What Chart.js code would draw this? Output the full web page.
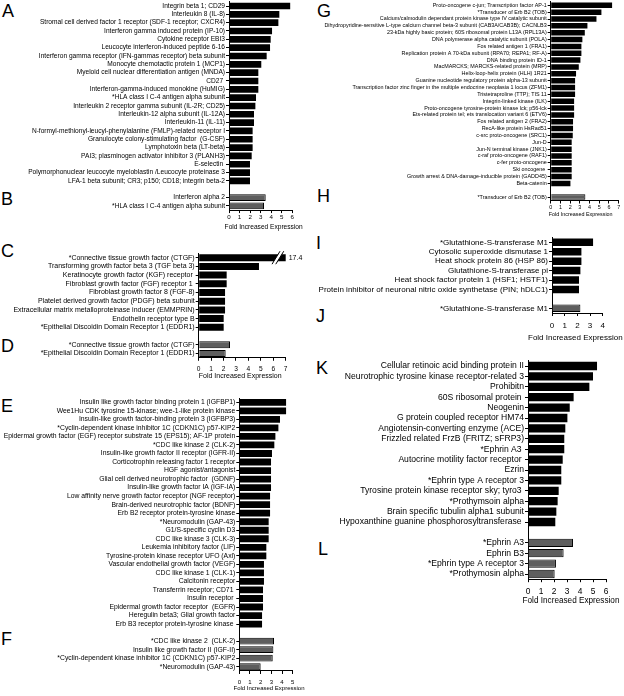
<!DOCTYPE html>
<html>
<head>
<meta charset="utf-8">
<script src="https://cdn.jsdelivr.net/npm/chart.js@4.4.0/dist/chart.umd.min.js"></script>
<style>
  html, body { margin: 0; padding: 0; background: #fff; overflow: hidden; }
  #fig { position: relative; width: 624px; height: 696px; background: #fff; }
  .panel { position: absolute; }
  .letter { position: absolute; font-family: "Liberation Sans", Arial, sans-serif; font-size: 18px; line-height: 18px; color: #000; }
</style>
</head>
<body>
<div id="fig"></div>
<script>
const FONT = "'Liberation Sans', Arial, Helvetica, sans-serif";
const AXIS_TITLE = "Fold Increased Expression";

// ---- A / B ----
const aLabels = [
  "Integrin beta 1; CD29",
  "Interleukin 8 (IL-8)",
  "Stromal cell derived factor 1 receptor (SDF-1 receptor; CXCR4)",
  "Interferon gamma induced protein (IP-10)",
  "Cytokine receptor EBI3",
  "Leucocyte interferon-induced peptide 6-16",
  "Interferon gamma receptor (IFN-gammas receptor) beta subunit",
  "Monocyte chemotactic protein 1 (MCP1)",
  "Myeloid cell nuclear differentiation antigen (MNDA)",
  "CD27 ",
  "Interferon-gamma-induced monokine (HuMIG)",
  "*HLA class I C-4 antigen alpha subunit",
  "Interleukin 2 receptor gamma subunit (IL-2R; CD25)",
  "Interleukin-12 alpha subunit (IL-12A)",
  "Interleukin-11 (IL-11)",
  "N-formyl-methionyl-leucyl-phenylalanine (FMLP)-related receptor I",
  "Granulocyte colony-stimulating factor  (G-CSF)",
  "Lymphotoxin beta (LT-beta)",
  "PAI3; plasminogen activator inhibitor 3 (PLANH3)",
  "E-selectin ",
  "Polymorphonuclear leucocyte myeloblastin /Leucocyte proteinase 3",
  "LFA-1 beta subunit; CR3; p150; CD18; integrin beta-2",
];
const aValues = [5.8, 4.77, 4.68, 4.08, 3.95, 3.89, 3.57, 3.06, 2.78, 2.78, 2.78, 2.56, 2.5, 2.37, 2.37, 2.24, 2.24, 2.24, 2.15, 1.99, 1.99, 1.99];
const bLabels = ["Interferon alpha 2", "*HLA class I C-4 antigen alpha subunit"];
const bValues = [3.48, 3.32];

// ---- C / D ----
const cLabels = [
  "*Connective tissue growth factor (CTGF)",
  "Transforming growth factor beta 3 (TGF beta 3)",
  "Keratinocyte growth factor (KGF) receptor ",
  "Fibroblast growth factor (FGF) receptor 1 ",
  "Fibroblast growth factor 8 (FGF-8)",
  "Platelet derived growth factor (PDGF) beta subunit",
  "Extracellular matrix metalloproteinase inducer (EMMPRIN)",
  "Endothelin receptor type B",
  "*Epithelial Discoidin Domain Receptor 1 (EDDR1)",
];
const cValues = [17.4, 4.85, 2.25, 2.25, 2.12, 2.12, 2.12, 2.01, 2.01];
const dLabels = ["*Connective tissue growth factor (CTGF)", "*Epithelial Discoidin Domain Receptor 1 (EDDR1)"];
const dValues = [2.52, 2.17];

// ---- E / F ----
const eLabels = [
  "Insulin like growth factor binding protein 1 (IGFBP1)",
  "Wee1Hu CDK tyrosine 15-kinase; wee-1-like protein kinase",
  "Insulin-like growth factor-binding protein 3 (IGFBP3)",
  "*Cyclin-dependent kinase inhibitor 1C (CDKN1C) p57-KIP2",
  "Epidermal growth factor (EGF) receptor substrate 15 (EPS15); AF-1P protein",
  "*CDC like kinase 2 (CLK-2)",
  "Insulin-like growth factor II receptor (IGFR-II)",
  "Corticotrophin releasing factor 1 receptor",
  "HGF agonist/antagonist",
  "Glial cell derived neurotrophic factor  (GDNF)",
  "Insulin-like growth factor IA (IGF-IA)",
  "Low affinity nerve growth factor receptor (NGF receptor)",
  "Brain-derived neurotrophic factor (BDNF)",
  "Erb B2 receptor protein-tyrosine kinase",
  "*Neuromodulin (GAP-43)",
  "G1/S-specific cyclin D3",
  "CDC like kinase 3 (CLK-3)",
  "Leukemia inhibitory factor (LIF)",
  "Tyrosine-protein kinase receptor UFO (Axl)",
  "Vascular endothelial growth factor (VEGF)",
  "CDC like kinase 1 (CLK-1)",
  "Calcitonin receptor",
  "Transferrin receptor; CD71 ",
  "Insulin receptor ",
  "Epidermal growth factor receptor  (EGFR)",
  "Heregulin beta3; Glial growth factor",
  "Erb B3 receptor protein-tyrosine kinase ",
];
const eValues = [4.38, 4.38, 3.81, 3.66, 3.38, 3.28, 3.06, 2.97, 2.97, 2.97, 2.97, 2.88, 2.88, 2.88, 2.75, 2.75, 2.75, 2.53, 2.53, 2.31, 2.31, 2.31, 2.22, 2.22, 2.22, 2.13, 2.13];
const fLabels = [
  "*CDC like kinase 2  (CLK-2)",
  "Insulin like growth factor II (IGF-II)",
  "*Cyclin-dependent kinase inhibitor 1C (CDKN1C) p57-KIP2",
  "*Neuromodulin (GAP-43)",
];
const fValues = [3.25, 3.19, 3.13, 2.0];

// ---- G / H ----
const gLabels = [
  "Proto-oncogene c-jun; Transcription factor AP-1",
  "*Transducer of Erb B2 (TOB)",
  "Calcium/calmodulin dependant protein kinase type IV catalytic subunit",
  "Dihydropyridine-sensitive L-type calcium channel beta-3 subunit (CAB3A/CAB3B); CACNLB3",
  "23-kDa highly basic protein; 60S ribosomal protein L13A (RPL13A)",
  "DNA polymerase alpha catalytic subunit (POLA)",
  "Fos related antigen 1 (FRA1)",
  "Replication protein A 70-kDa subunit (RPA70; REPA1; RF-A)",
  "DNA binding protein ID-1",
  "MacMARCKS; MARCKS-related protein (MRP)",
  "Helix-loop-helix protein (HLH) 1R21",
  "Guanine nucleotide regulatory protein alpha-13 subunit",
  "Transcription factor zinc finger in the multiple endocrine neoplasia 1 locus (ZFM1)",
  "Tristetraproline (TTP); TIS 11",
  "Integrin-linked kinase (ILK)",
  "Proto-oncogene tyrosine-protein kinase lck; p56-lck",
  "Ets-related protein tel; ets translocation variant 6 (ETV6)",
  "Fos related antigen 2 (FRA2)",
  "RecA-like protein HsRad51",
  "c-src proto-oncogene (SRC1)",
  "Jun-D",
  "Jun-N terminal kinase (JNK1)",
  "c-raf proto-oncogene (RAF1)",
  "c-fer proto-oncogene",
  "Ski oncogene ",
  "Growth arrest & DNA-damage-inducible protein (GADD45)",
  "Beta-catenin",
];
const gValues = [6.32, 5.22, 4.71, 3.78, 3.51, 3.26, 3.16, 3.16, 3.06, 2.89, 2.61, 2.51, 2.51, 2.51, 2.41, 2.41, 2.41, 2.3, 2.3, 2.27, 2.16, 2.16, 2.16, 2.16, 2.16, 2.16, 2.03];
const hLabels = ["*Transducer of Erb B2 (TOB)"];
const hValues = [3.57];

// ---- I / J ----
const iLabels = [
  "*Glutathione-S-transferase M1",
  "Cytosolic superoxide dismutase 1",
  "Heat shock protein 86 (HSP 86)",
  "Glutathione-S-transferase pi",
  "Heat shock factor protein 1 (HSF1; HSTF1)",
  "Protein inhibitor of neuronal nitric oxide synthetase (PIN; hDLC1)",
];
const iValues = [3.24, 2.32, 2.32, 2.24, 2.13, 2.13];
const jLabels = ["*Glutathione-S-transferase M1"];
const jValues = [2.24];

// ---- K / L ----
const kLabels = [
  "Cellular retinoic acid binding protein II",
  "Neurotrophic tyrosine kinase receptor-related 3",
  "Prohibitn",
  "60S ribosomal protein ",
  "Neogenin",
  "G protein coupled receptor HM74",
  "Angiotensin-converting enzyme (ACE)",
  "Frizzled related FrzB (FRITZ; sFRP3)",
  "*Ephrin A3 ",
  "Autocrine motility factor receptor ",
  "Ezrin",
  "*Ephrin type A receptor 3",
  "Tyrosine protein kinase receptor sky; tyro3 ",
  "*Prothymsoin alpha",
  "Brain specific tubulin alpha1 subunit",
  "Hypoxanthine guanine phosphorosyltransferase ",
];
const kValues = [5.31, 5.0, 4.72, 3.51, 3.21, 3.03, 2.87, 2.79, 2.79, 2.67, 2.56, 2.56, 2.36, 2.28, 2.18, 2.1];
const lLabels = ["*Ephrin A3", "Ephrin B3", "*Ephrin type A receptor 3", "*Prothymosin alpha"];
const lValues = [3.46, 2.74, 2.15, 2.05];

const fig = document.getElementById("fig");

// panel letters
[["A", 2, 2], ["B", 1, 190], ["C", 1, 242], ["D", 1, 337], ["E", 1, 397], ["F", 1, 630],
 ["G", 317, 2], ["H", 317, 187], ["I", 316, 234], ["J", 316, 307], ["K", 316, 359], ["L", 318, 540]].forEach(([t, x, y]) => {
  const d = document.createElement("div");
  d.className = "letter";
  d.textContent = t;
  d.style.left = x + "px";
  d.style.top = y + "px";
  fig.appendChild(d);
});

// broken-axis mark and the real value for the CTGF bar in C
const breakMark = {
  id: "breakMark",
  afterDatasetsDraw(chart) {
    const bar = chart.getDatasetMeta(0).data[0];
    const xs = chart.scales.x;
    const ctx = chart.ctx;
    const y0 = bar.y - 6.5, y1 = bar.y + 6.5;
    const a = xs.getPixelForValue(5.9), b = xs.getPixelForValue(6.2), slant = 8;
    ctx.save();
    ctx.fillStyle = "#fff";
    ctx.beginPath();
    ctx.moveTo(a, y1); ctx.lineTo(a + slant, y0); ctx.lineTo(b + slant, y0); ctx.lineTo(b, y1);
    ctx.closePath();
    ctx.fill();
    ctx.strokeStyle = "#000";
    ctx.lineWidth = 1;
    ctx.beginPath();
    ctx.moveTo(a, y1); ctx.lineTo(a + slant, y0);
    ctx.moveTo(b, y1); ctx.lineTo(b + slant, y0);
    ctx.stroke();
    ctx.fillStyle = "#000";
    ctx.font = "7px " + FONT;
    ctx.textBaseline = "middle";
    ctx.fillText(cValues[0].toFixed(1), chart.chartArea.right + 3, bar.y);
    ctx.restore();
  },
};

function buildPanel(p) {
  const labels = p.topLabels.concat([""], p.bottomLabels);
  const values = p.topValues.concat([null], p.bottomValues);
  const gap = p.topLabels.length;
  const colors = labels.map((l, i) => (i < gap ? "#000" : "#5e5e5e"));
  const borders = labels.map((l, i) => (i < gap ? 0 : 1));

  const chartTop = p.firstRow - p.step / 2;
  const chartBottom = chartTop + labels.length * p.step;
  const canvasTop = Math.round(chartTop - 12);
  const scaleBottom = p.titleY + p.titleSize * 0.6;
  const height = Math.ceil(scaleBottom + 2 - canvasTop);
  const width = Math.round(p.axisEnd + (p.padRight || 8) - p.left);
  const padRight = p.left + width - p.axisEnd;

  const box = document.createElement("div");
  box.className = "panel";
  box.style.left = p.left + "px";
  box.style.top = canvasTop + "px";
  box.style.width = width + "px";
  box.style.height = height + "px";
  const canvas = document.createElement("canvas");
  box.appendChild(canvas);
  fig.appendChild(box);

  // x title drawn by hand: the scale title gets squeezed to the axis width
  const axisTitle = {
    id: "axisTitle",
    afterDraw(chart) {
      const ca = chart.chartArea;
      const ctx = chart.ctx;
      ctx.save();
      ctx.fillStyle = "#000";
      ctx.font = p.titleSize + "px " + FONT;
      ctx.textAlign = "center";
      ctx.textBaseline = "middle";
      ctx.fillText(AXIS_TITLE, (ca.left + ca.right) / 2 + (p.titleShift || 0), p.titleY - canvasTop);
      ctx.restore();
    },
  };

  return new Chart(canvas, {
    type: "bar",
    data: {
      labels: labels,
      datasets: [{
        data: values,
        backgroundColor: colors,
        borderColor: "#000",
        borderWidth: borders,
        barPercentage: 0.8,
        categoryPercentage: 1,
      }],
    },
    options: {
      indexAxis: "y",
      responsive: true,
      maintainAspectRatio: false,
      animation: false,
      devicePixelRatio: 1,
      events: [],
      layout: { padding: { top: chartTop - canvasTop, right: padRight, bottom: height - scaleBottom + canvasTop, left: 0 } },
      plugins: { legend: { display: false }, tooltip: { enabled: false } },
      scales: {
        y: {
          type: "category",
          offset: true,
          afterFit: (s) => { s.width = p.axisX - p.left; },
          border: { display: true, color: "#000", width: 1 },
          grid: {
            drawOnChartArea: false,
            offset: false,
            tickLength: 3,
            tickColor: (c) => (c.index === gap ? "rgba(0,0,0,0)" : "#000"),
          },
          ticks: { autoSkip: false, color: "#000", padding: 1, font: { family: FONT, size: p.labelSize } },
        },
        x: {
          type: "linear",
          min: 0,
          max: p.max,
          afterFit: (s) => { s.height = scaleBottom - chartBottom; },
          border: { display: true, color: "#000", width: 1 },
          grid: { drawOnChartArea: false, tickLength: 3, tickColor: "#000" },
          ticks: { stepSize: 1, color: "#000", padding: p.tickPad, maxRotation: 0, font: { family: FONT, size: p.tickSize } },
          title: { display: false },
        },
      },
    },
    plugins: [axisTitle].concat(p.plugins || []),
  });
}

buildPanel({ topLabels: aLabels, topValues: aValues, bottomLabels: bLabels, bottomValues: bValues,
  left: 0, axisX: 229, axisEnd: 292.3, max: 6, firstRow: 6, step: 8.33, padRight: 16,
  labelSize: 6.6, tickSize: 6.2, titleSize: 6.6, tickPad: 0.5, titleY: 227.3, titleShift: 3 });

buildPanel({ topLabels: cLabels, topValues: cValues, bottomLabels: dLabels, bottomValues: dValues,
  left: 0, axisX: 198.7, axisEnd: 285.7, max: 7, firstRow: 257.7, step: 8.7, padRight: 22,
  labelSize: 7, tickSize: 6.6, titleSize: 7, tickPad: 4.6, titleY: 376, titleShift: -2, plugins: [breakMark] });

buildPanel({ topLabels: eLabels, topValues: eValues, bottomLabels: fLabels, bottomValues: fValues,
  left: 0, axisX: 239.3, axisEnd: 292.7, max: 5, firstRow: 402.3, step: 8.53, padRight: 18,
  labelSize: 6.8, tickSize: 6, titleSize: 6, tickPad: 5.1, titleY: 688.3, titleShift: 3 });

buildPanel({ topLabels: gLabels, topValues: gValues, bottomLabels: hLabels, bottomValues: hValues,
  left: 312, axisX: 550.7, axisEnd: 618.7, max: 7, firstRow: 5.3, step: 6.85,
  labelSize: 5.4, tickSize: 5.4, titleSize: 5.4, tickPad: 0.6, titleY: 215, titleShift: -4 });

buildPanel({ topLabels: iLabels, topValues: iValues, bottomLabels: jLabels, bottomValues: jValues,
  left: 312, axisX: 552, axisEnd: 602.7, max: 4, firstRow: 242.3, step: 9.43, padRight: 24,
  labelSize: 8, tickSize: 8, titleSize: 8, tickPad: 5.2, titleY: 337.3, titleShift: -2 });

buildPanel({ topLabels: kLabels, topValues: kValues, bottomLabels: lLabels, bottomValues: lValues,
  left: 312, axisX: 528, axisEnd: 606, max: 6, firstRow: 366, step: 10.4, padRight: 20,
  labelSize: 8.6, tickSize: 8.4, titleSize: 8.2, tickPad: 4.5, titleY: 601, titleShift: 4 });
</script>
</body>
</html>
